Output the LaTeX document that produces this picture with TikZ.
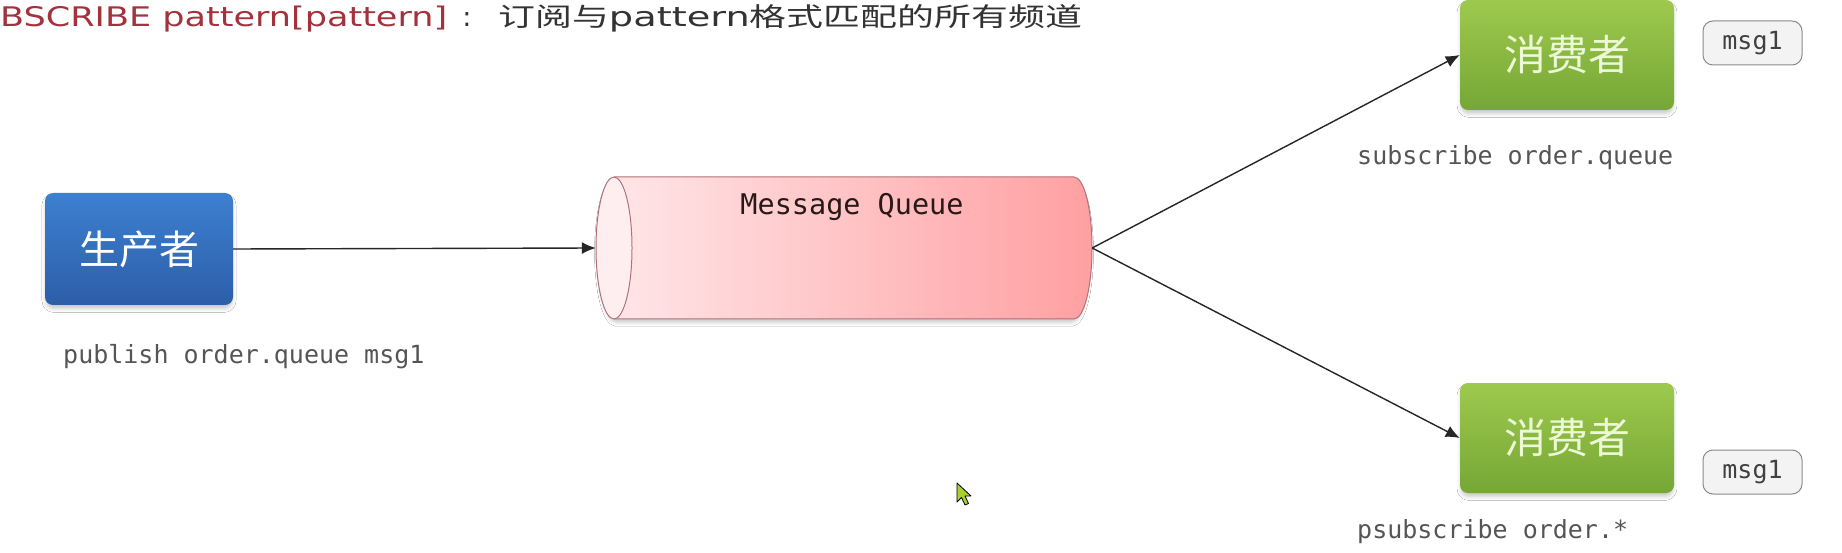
\documentclass[tikz,border=0pt]{standalone}
\usepackage{fontspec}
\usepackage{graphicx}
\usetikzlibrary{arrows.meta,shadows.blur}
\newfontfamily\cjk{Noto Sans CJK SC}
\newfontfamily\dejavu{DejaVu Sans}
\newfontfamily\dmono{DejaVu Sans Mono}
\definecolor{titlered}{HTML}{A3323D}
\definecolor{titlegray}{HTML}{333333}
\definecolor{prodtop}{HTML}{3D80D0}
\definecolor{prodbot}{HTML}{2C5EA9}
\definecolor{constop}{HTML}{9DCA4D}
\definecolor{consbot}{HTML}{76A636}
\definecolor{cyleft}{HTML}{FFE8EA}
\definecolor{cyright}{HTML}{FFA0A2}
\definecolor{cyborder}{HTML}{B07276}
\definecolor{cyend}{HTML}{FFEEF0}
\definecolor{labelgray}{HTML}{555555}
\definecolor{tagfill}{HTML}{F3F3F3}
\definecolor{tagborder}{HTML}{8A8A8A}
\definecolor{cursorgreen}{HTML}{A8D030}
\begin{document}
\begin{tikzpicture}[x=1pt,y=1pt,
  softshadow/.style={blur shadow={shadow xshift=0pt, shadow yshift=-4pt, shadow opacity=22, shadow blur radius=4pt, shadow scale=0.99}},
  prodbox/.style={rounded corners=8pt, minimum width=188pt, minimum height=112pt, inner sep=0pt,
    top color=prodtop, bottom color=prodbot, draw=none, softshadow,
    text=white, font=\cjk\fontsize{40}{44}\selectfont},
  consbox/.style={rounded corners=8pt, minimum width=214pt, minimum height=110pt, inner sep=0pt,
    top color=constop, bottom color=consbot, draw=none, softshadow,
    text={rgb,255:red,236;green,248;blue,214}, font=\cjk\fontsize{42}{46}\selectfont},
  tagbox/.style={rounded corners=10pt, minimum width=99pt, minimum height=44pt, inner sep=0pt,
    fill=tagfill, draw=tagborder, line width=1pt, text=black!75, font=\dmono\fontsize{25}{28}\selectfont},
  cmdlabel/.style={anchor=base west, inner sep=0pt, text=labelgray, font=\dmono\fontsize{25}{28}\selectfont},
  conn/.style={draw=black!85, line width=1.4pt, -{Latex[length=14pt,width=12pt]}},
]
\useasboundingbox[fill=white] (0,0) rectangle (1842,-553);

% title
\node[anchor=base west, inner sep=0pt, text=titlered] (title1) at (0,-27)
  {\resizebox{447pt}{\height}{\dejavu\fontsize{27}{30}\selectfont BSCRIBE pattern[pattern]}};
\node[anchor=base, inner sep=0pt, text=titlegray] (colon) at (467,-27)
  {\dejavu\fontsize{27}{30}\selectfont :};
\node[anchor=base west, inner sep=0pt, text=titlegray] (title2) at (498,-27)
  {\resizebox{584pt}{\height}{\cjk\fontsize{26}{30}\selectfont 订阅与{\dejavu\fontsize{27}{30}\selectfont pattern}格式匹配的所有频道}};

% producer
\node[prodbox] (prod) at (139,-249) {生产者};
\node[cmdlabel] (publab) at (63,-363) {publish order.queue msg1};

% message queue (drawn cylinder)
\node[minimum width=496pt, minimum height=142pt, inner sep=0pt] (mq) at (844,-248) {};
\fill[white, softshadow]
  (614,-177) -- (1074,-177) arc[start angle=90, end angle=-90, x radius=18pt, y radius=71pt]
  -- (614,-319) arc[start angle=270, end angle=90, x radius=18pt, y radius=71pt] -- cycle;
\shade[left color=cyleft, right color=cyright]
  (614,-177) -- (1074,-177) arc[start angle=90, end angle=-90, x radius=18pt, y radius=71pt]
  -- (614,-319) arc[start angle=270, end angle=90, x radius=18pt, y radius=71pt] -- cycle;
\draw[cyborder, line width=1pt]
  (614,-177) -- (1074,-177) arc[start angle=90, end angle=-90, x radius=18pt, y radius=71pt]
  -- (614,-319);
\draw[cyborder, line width=1pt, fill=cyend] (614,-248) ellipse[x radius=18pt, y radius=71pt];
\node[anchor=base, inner sep=0pt, text={rgb,255:red,40;green,24;blue,24}, font=\dmono\fontsize{28.5}{32}\selectfont]
  (mqlab) at (852,-215) {Message Queue};

% consumers
\node[consbox] (c1) at (1567,-55) {消费者};
\node[consbox] (c2) at (1567,-438) {消费者};
\node[tagbox] (t1) at (1752.5,-43) {msg1};
\node[tagbox] (t2) at (1752.5,-472) {msg1};
\node[cmdlabel] (sublab) at (1357,-165) {subscribe order.queue};
\node[cmdlabel] (psublab) at (1357,-538) {psubscribe order.*};

% connectors
\draw[conn] (prod.east) -- (mq.west);
\draw[conn] (mq.east) -- (c1.west);
\draw[conn] (mq.east) -- (c2.west);

% mouse cursor
\draw[fill=cursorgreen, draw=black, line width=0.8pt, line join=round]
  (957,-483) -- (957,-502) -- (961.5,-497.5) -- (965,-505) -- (968.5,-503.5) -- (965,-496) -- (971,-496) -- cycle;
\end{tikzpicture}
\end{document}
